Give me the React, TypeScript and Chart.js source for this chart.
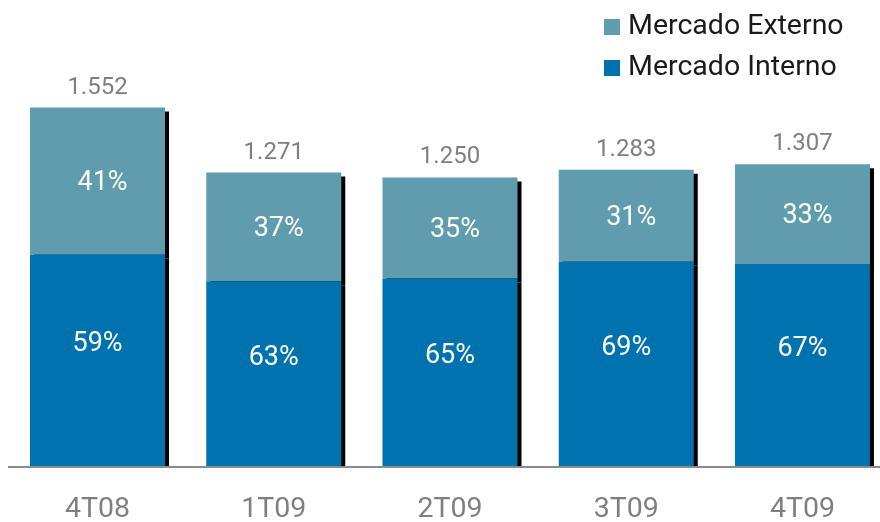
import React, { useEffect, useRef } from 'react';
import { Chart, registerables } from 'chart.js';

Chart.register(...registerables);

const categories = ['4T08', '1T09', '2T09', '3T09', '4T09'];
const mercadoInterno = [916, 801, 813, 885, 876];
const mercadoExterno = [636, 470, 437, 398, 431];
const totals = [1552, 1271, 1250, 1283, 1307];
const internoPct = [59, 63, 65, 69, 67];
const externoPct = [41, 37, 35, 31, 33];
const seriesNames = ['Mercado Interno', 'Mercado Externo'];

const COLOR_INTERNO = '#0072ae';
const COLOR_EXTERNO = '#5f9cad';
const GRAY_TEXT = '#7f7f7f';
const FONT = 'Roboto, "Liberation Sans", Arial, sans-serif';

function fmtThousands(v: number): string {
  return String(v).replace(/\B(?=(\d{3})+(?!\d))/g, '.');
}

const shadowPlugin = {
  id: 'barShadow',
  beforeDatasetDraw(chart: any) {
    const ctx = chart.ctx;
    ctx.save();
    ctx.shadowColor = '#000000';
    ctx.shadowOffsetX = 4;
    ctx.shadowOffsetY = 4;
    ctx.shadowBlur = 0;
  },
  afterDatasetDraw(chart: any) {
    chart.ctx.restore();
  },
};

const labelPlugin = {
  id: 'barLabels',
  afterDatasetsDraw(chart: any) {
    const ctx = chart.ctx;
    const mi = chart.getDatasetMeta(0).data;
    const me = chart.getDatasetMeta(1).data;
    ctx.save();
    ctx.textAlign = 'center';
    ctx.textBaseline = 'middle';
    for (let i = 0; i < categories.length; i++) {
      const bi = mi[i];
      const be = me[i];
      ctx.fillStyle = '#ffffff';
      ctx.font = `27px ${FONT}`;
      ctx.fillText(`${internoPct[i]}%`, bi.x, (bi.y + bi.base) / 2 - 16);
      ctx.fillText(`${externoPct[i]}%`, be.x + 5, (be.y + be.base) / 2 + 2);
      ctx.fillStyle = GRAY_TEXT;
      ctx.font = `24px ${FONT}`;
      ctx.fillText(fmtThousands(totals[i]), be.x, be.y - 20);
    }
    ctx.restore();
  },
};

const legendPlugin = {
  id: 'customLegend',
  afterDraw(chart: any) {
    const ctx = chart.ctx;
    const items = [
      { name: seriesNames[1], color: COLOR_EXTERNO, y: 27 },
      { name: seriesNames[0], color: COLOR_INTERNO, y: 68 },
    ];
    ctx.save();
    ctx.textAlign = 'left';
    ctx.textBaseline = 'middle';
    ctx.font = `28.5px ${FONT}`;
    for (const it of items) {
      ctx.fillStyle = it.color;
      ctx.fillRect(604, it.y - 8, 16, 16);
      ctx.fillStyle = '#1a1a1a';
      ctx.fillText(it.name, 628, it.y);
    }
    ctx.restore();
  },
};

export default function App() {
  const ref = useRef<HTMLCanvasElement | null>(null);

  useEffect(() => {
    if (!ref.current) return;
    const chart = new Chart(ref.current, {
      type: 'bar',
      data: {
        labels: categories,
        datasets: [
          {
            label: seriesNames[0],
            data: mercadoInterno,
            backgroundColor: COLOR_INTERNO,
            borderWidth: 0,
            barPercentage: 0.766,
            categoryPercentage: 1,
            clip: 0,
          },
          {
            label: seriesNames[1],
            data: mercadoExterno,
            backgroundColor: COLOR_EXTERNO,
            borderWidth: 0,
            barPercentage: 0.766,
            categoryPercentage: 1,
            clip: 0,
          },
        ],
      },
      options: {
        responsive: false,
        maintainAspectRatio: false,
        animation: false,
        layout: { padding: { left: 9.4, right: 9.4, top: 4, bottom: -31 } },
        plugins: {
          legend: { display: false },
          tooltip: { enabled: false },
        },
        scales: {
          x: {
            stacked: true,
            offset: true,
            grid: { display: false, drawTicks: false },
            border: { display: true, color: '#8c8c8c', width: 2, z: 1 },
            ticks: {
              color: GRAY_TEXT,
              font: { family: FONT, size: 28.5, lineHeight: 1 },
              padding: 29,
              maxRotation: 0,
              autoSkip: false,
            },
          },
          y: {
            stacked: true,
            display: false,
            min: 0,
            max: 2000,
          },
        },
      },
      plugins: [shadowPlugin, labelPlugin, legendPlugin],
    });
    return () => chart.destroy();
  }, []);

  return (
    <div
      style={{
        position: 'absolute',
        left: 0,
        top: 0,
        width: 880,
        height: 522,
        overflow: 'hidden',
        background: '#ffffff',
      }}
    >
      <canvas ref={ref} width={900} height={522} style={{ display: 'block' }} />
    </div>
  );
}
